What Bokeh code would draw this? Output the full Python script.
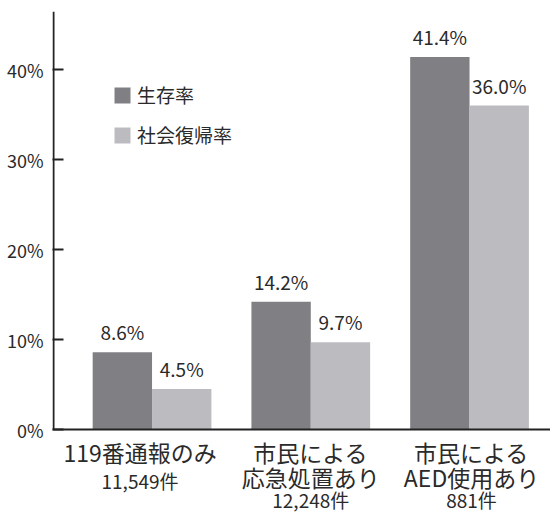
from bokeh.plotting import figure
from bokeh.models import ColumnDataSource, LabelSet, FixedTicker, Legend, LegendItem
from bokeh.core.properties import value
from bokeh.embed import file_html
from bokeh.resources import INLINE

categories = ["119番通報のみ", "市民による\n応急処置あり", "市民による\nAED使用あり"]
counts = ["11,549件", "12,248件", "881件"]
survival = [8.6, 14.2, 41.4]
social_return = [4.5, 9.7, 36.0]
series_names = ["生存率", "社会復帰率"]
y_ticks = [0, 10, 20, 30, 40]

FONT = "Noto Sans CJK JP"
DARK = "#808084"
LIGHT = "#bcbcc0"
TXT = "#2a2a2a"
AX = "#222222"

n = len(categories)
idx = list(range(n))
off = 0.187
bw = 0.374
PX = 9.0      # pixels per percent
XPX = 158.0   # pixels per category
H = 513
TOP = 11
Y_TOP = 46.45
Y_BOT = Y_TOP - (H - TOP) / PX
X0, X1 = -0.627, 2.51
LABEL_DX = [-12, 0, 2]   # small horizontal nudges of category labels (px)

p = figure(width=550, height=H, output_backend="svg", toolbar_location=None,
           x_range=(X0, X1), y_range=(Y_BOT, Y_TOP),
           min_border_left=52, min_border_top=TOP, min_border_bottom=0, min_border_right=0)
p.outline_line_color = None
p.grid.visible = False
p.background_fill_color = "white"
p.border_fill_color = "white"
p.xaxis.visible = False

src1 = ColumnDataSource(dict(x=[i - off for i in idx], y=survival,
                             t=[f"{v:.1f}%" for v in survival]))
src2 = ColumnDataSource(dict(x=[i + off for i in idx], y=social_return,
                             t=[f"{v:.1f}%" for v in social_return]))

r1 = p.vbar(x="x", top="y", width=bw, source=src1, fill_color=DARK, line_color=None)
r2 = p.vbar(x="x", top="y", width=bw, source=src2, fill_color=LIGHT, line_color=None)

# axis lines
p.segment(x0=[X0], y0=[0], x1=[X1], y1=[0], line_color=AX, line_width=2)
p.segment(x0=[X0 + 1 / XPX], y0=[0], x1=[X0 + 1 / XPX], y1=[Y_TOP], line_color=AX, line_width=2)

for s in (src1, src2):
    p.add_layout(LabelSet(x="x", y="y", text="t", source=s, y_offset=7,
                          text_align="center", text_baseline="bottom",
                          text_font=value(FONT), text_font_size="19px", text_color=TXT))

# category labels below the axis (baselines in px below the zero line)
cat_lines = [c.split("\n") for c in categories]
lx, ly, lt, ldx = [], [], [], []
cy = []
for i, lines in enumerate(cat_lines):
    for j, line in enumerate(lines):
        lx.append(i); ly.append(-(32 + 25 * j) / PX); lt.append(line); ldx.append(LABEL_DX[i])
    last = 32 + 25 * (len(lines) - 1)
    cy.append(-(last + (27 if len(lines) == 1 else 21)) / PX)
p.add_layout(LabelSet(x="x", y="y", text="t", x_offset="dx",
                      source=ColumnDataSource(dict(x=lx, y=ly, t=lt, dx=ldx)),
                      text_align="center", text_baseline="alphabetic",
                      text_font=value(FONT), text_font_size="23px", text_color=TXT))
p.add_layout(LabelSet(x="x", y="y", text="t", x_offset="dx",
                      source=ColumnDataSource(dict(x=idx, y=cy, t=counts, dx=LABEL_DX)),
                      text_align="center", text_baseline="alphabetic",
                      text_font=value(FONT), text_font_size="19px", text_color=TXT))

# y axis (ticks + labels only)
p.yaxis.ticker = FixedTicker(ticks=y_ticks)
p.yaxis.major_label_overrides = {t: f"{t}%" for t in y_ticks}
p.yaxis.major_tick_in = 11
p.yaxis.major_tick_out = 0
p.yaxis.minor_tick_line_color = None
p.yaxis.major_label_standoff = 9
p.yaxis.major_label_text_font = FONT
p.yaxis.major_label_text_font_size = "18px"
p.yaxis.major_label_text_color = TXT
p.yaxis.axis_line_color = None
p.yaxis.major_tick_line_color = AX
p.yaxis.major_tick_line_width = 2

legend = Legend(items=[LegendItem(label=series_names[0], renderers=[r1]),
                       LegendItem(label=series_names[1], renderers=[r2])],
                location=(60, int(H - TOP - 138 + 1)), glyph_width=20, glyph_height=20,
                label_text_font=FONT, label_text_font_size="19px", label_text_color=TXT,
                label_standoff=5, spacing=13, padding=0, margin=0,
                border_line_color=None, background_fill_alpha=0)
p.add_layout(legend)

open("out.html", "w").write(file_html(p, INLINE))
